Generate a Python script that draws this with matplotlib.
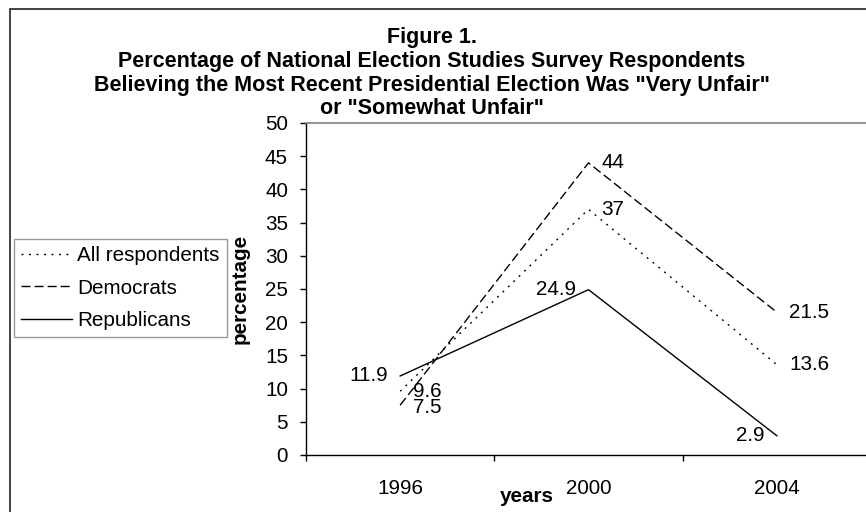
import matplotlib
matplotlib.use("Agg")
import matplotlib.pyplot as plt
from matplotlib.patches import Rectangle

years = ["1996", "2000", "2004"]
all_resp = [9.6, 37, 13.6]
democrats = [7.5, 44, 21.5]
republicans = [11.9, 24.9, 2.9]
series_names = ["All respondents", "Democrats", "Republicans"]
y_ticks = list(range(0, 51, 5))
title_lines = [
    "Figure 1.",
    "Percentage of National Election Studies Survey Respondents",
    "Believing the Most Recent Presidential Election Was \"Very Unfair\"",
    "or \"Somewhat Unfair\"",
]

plt.rcParams["font.family"] = ["Liberation Sans", "DejaVu Sans"]
FS = 14.9

W, H = 866, 512
fig = plt.figure(figsize=(W / 100, H / 100), dpi=100)

# plot area: runs off the right edge like the cropped original
x0, x1, y0, y1 = 306, 871, 123, 455
ax = fig.add_axes([x0 / W, 1 - y1 / H, (x1 - x0) / W, (y1 - y0) / H])

x = range(len(years))
ax.plot(x, all_resp, color="black", lw=1, linestyle=(0, (1.4, 4.0)), label=series_names[0])
ax.plot(x, democrats, color="black", lw=1, linestyle=(0, (6.5, 2.9)), label=series_names[1])
ax.plot(x, republicans, color="black", lw=1, linestyle="-", label=series_names[2])

# data labels
for i, v in enumerate(all_resp):
    ax.annotate(f"{v:g}", (i, v), xytext=(9, 0), textcoords="offset points",
                ha="left", va="center", fontsize=FS)
for i, v in enumerate(democrats):
    ax.annotate(f"{v:g}", (i, v), xytext=(9, 0), textcoords="offset points",
                ha="left", va="center", fontsize=FS)
for i, v in enumerate(republicans):
    ax.annotate(f"{v:g}", (i, v), xytext=(-9, 0), textcoords="offset points",
                ha="right", va="center", fontsize=FS)
# the 7.5 label sits a little lower than its neighbour
ax.texts[3].set_position((9, -2))

ax.set_xlim(-0.5, len(years) - 0.5)
ax.set_ylim(0, 50)
ax.set_yticks(y_ticks)
ax.set_yticklabels([str(t) for t in y_ticks], fontsize=FS)
ax.tick_params(axis="y", direction="out", length=4.5, width=1, pad=8.5)

ax.set_xticks([i - 0.5 for i in range(len(years) + 1)])
ax.set_xticklabels([])
ax.tick_params(axis="x", which="major", direction="out", length=4.5, width=1)
ax.set_xticks(list(x), minor=True)
ax.set_xticklabels(years, minor=True, fontsize=FS)
ax.tick_params(axis="x", which="minor", length=0, pad=17)

for side in ["left", "bottom"]:
    ax.spines[side].set_color("black")
    ax.spines[side].set_linewidth(1)
for side in ["top", "right"]:
    ax.spines[side].set_color("#808080")
    ax.spines[side].set_linewidth(1.2)

# axis titles placed as in the original
fig.text(240 / W, 1 - 289 / H, "percentage", rotation=90, ha="center", va="center",
         fontsize=FS, fontweight="bold")
fig.text(527 / W, 1 - 497 / H, "years", ha="center", va="center",
         fontsize=FS, fontweight="bold")

# title, one text per line (24 px apart)
for k, line in enumerate(title_lines):
    fig.text(432 / W, 1 - (37 + 24 * k) / H, line, ha="center", va="center",
             fontsize=FS * 1.04, fontweight="bold")

leg = ax.legend(loc="upper left", bbox_to_anchor=(14 / W, 1 - 239 / H),
                bbox_transform=fig.transFigure, borderaxespad=0, fontsize=FS,
                frameon=True, fancybox=False, edgecolor="#808080",
                handlelength=2.45, handletextpad=0.25, labelspacing=0.64,
                borderpad=0.36)
leg.get_frame().set_linewidth(1)

# outer chart frame, cut off at right and bottom
fig.add_artist(Rectangle((10 / W, -0.1), 1.2, 1 - 9 / H + 0.1,
                         transform=fig.transFigure, fill=False,
                         edgecolor="#222222", lw=1.2))

fig.savefig("out.png", dpi=100)
